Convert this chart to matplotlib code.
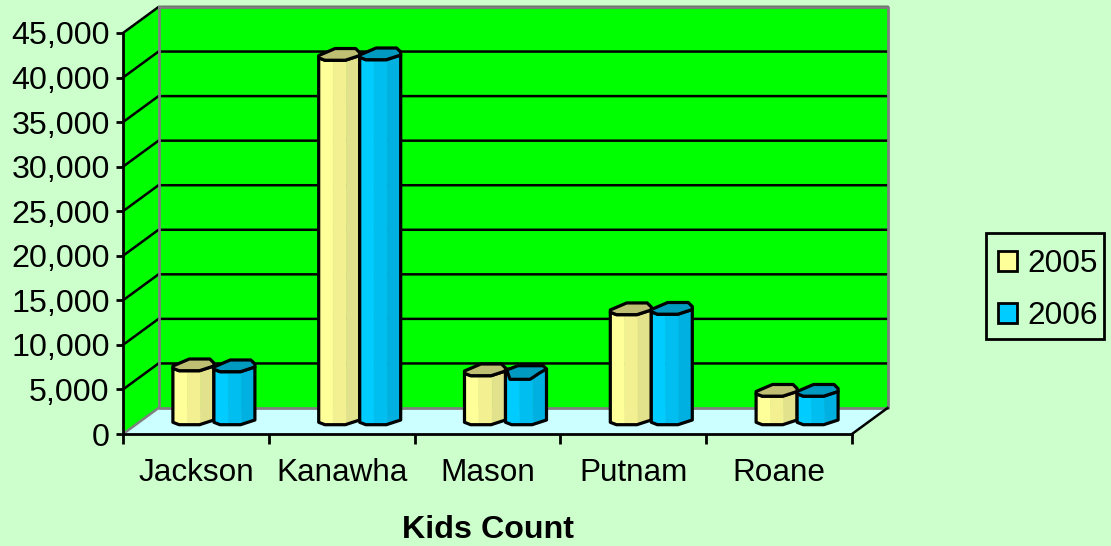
import numpy as np
import matplotlib
matplotlib.use("Agg")
import matplotlib.pyplot as plt
from matplotlib.patches import Polygon, Patch, Rectangle
from matplotlib.ticker import FuncFormatter

categories = ["Jackson", "Kanawha", "Mason", "Putnam", "Roane"]
kids_2005 = [6060, 40900, 5500, 12350, 3200]
kids_2006 = [5950, 40960, 5350, 12400, 3200]
series_labels = ["2005", "2006"]

W, H = 1111, 546
plt.rcParams["font.family"] = ["Liberation Sans", "DejaVu Sans"]
BG, WALL, FLOOR, GREY = "#CCFFCC", "#00FF00", "#CCFFFF", "#808080"
BANDS = [["#FFFF99", "#F3F092", "#E2E28C"], ["#00CCFF", "#00BEF0", "#00B0E0"]]
TOPS = ["#BFBF73", "#0099BF"]
FS = 22.7

fig = plt.figure(figsize=(W / 100, H / 100), dpi=100, facecolor=BG)
L, R, T, B = 123, 852, 33, 434
ax = fig.add_axes([L / W, 1 - B / H, (R - L) / W, (B - T) / H])
ax.set_xlim(0, len(categories))
ax.set_ylim(0, 45000)
ax.patch.set_visible(False)

sx = len(categories) / (R - L)      # data units per pixel
sy = 45000 / (B - T)
DX, DY = 35.5 * sx, 26 * sy         # depth of the box

ymax = 45000
def poly(pts, **kw):
    p = Polygon(pts, closed=True, clip_on=False, **kw)
    ax.add_patch(p)
    return p

# walls and floor
nc = len(categories)
poly([(DX, DY), (nc + DX, DY), (nc + DX, ymax + DY), (DX, ymax + DY)], fc=WALL, ec="none", zorder=1)
poly([(0, 0), (DX, DY), (DX, ymax + DY), (0, ymax)], fc=WALL, ec="none", zorder=1)
poly([(0, 0), (nc, 0), (nc + DX, DY), (DX, DY)], fc=FLOOR, ec="none", zorder=1)
for v in np.arange(5000, 45001, 5000):
    ax.plot([0, DX, nc + DX], [v, v + DY, v + DY], color="k", lw=1.8, clip_on=False, zorder=2,
            solid_joinstyle="miter")
ax.plot([DX, DX, nc + DX, nc + DX, DX], [ymax + DY, DY, DY, ymax + DY, ymax + DY], color=GREY, lw=2.0,
        clip_on=False, zorder=2.5)
ax.plot([0, DX], [0, DY], color=GREY, lw=1.8, clip_on=False, zorder=2.5)
ax.plot([nc, nc + DX], [0, DY], color="k", lw=1.8, clip_on=False, zorder=2.5)

# cylinders: low-resolution tilted-ellipse outline, in pixels around the bar centre
BW = 41.0
top_u = np.array([0, 16, 36, 40, 40, 26, 6, 0]) / 40
top_v = np.array([1, -6, -6, -2, 1, 5.7, 5.7, 3.3])
low_u = np.array([0, 6, 26, 40]) / 40
low_v = np.array([3.3, 5.7, 5.7, 1.0])
# the dented top of the Mason 2006 cylinder
dent_u = np.array([0.03, 0.11, 0.6, 0.84, 1, 0.92, 0.3])
dent_v = np.array([-1.3, 8, 8, 1.4, -2.3, -5.6, -5.6])
band_edges = [0, 14 / 40, 27 / 40, 1]
BASE_DX, BASE_DY = 18.0, 15.0

def cylinder(left_px, val, s, z, dented=False):
    y0 = BASE_DY * sy
    X = lambda u: left_px * sx + u * BW * sx
    upper_v = np.full_like(low_v, -2.3) if dented else low_v
    for k in range(3):
        us = np.unique(np.r_[band_edges[k], band_edges[k + 1],
                             low_u[(low_u > band_edges[k]) & (low_u < band_edges[k + 1])]])
        lv = np.interp(us, low_u, low_v)
        uv = np.interp(us, low_u, upper_v)
        pts = [(X(u), val + y0 - v * sy) for u, v in zip(us, uv)]
        pts += [(X(u), y0 - v * sy) for u, v in zip(us[::-1], lv[::-1])]
        poly(pts, fc=BANDS[s][k], ec=BANDS[s][k], lw=0.4, zorder=z)
    outline = [(X(u), val + y0 - v * sy) for u, v in zip(low_u, upper_v)]
    outline += [(X(u), y0 - v * sy) for u, v in zip(low_u[::-1], low_v[::-1])]
    poly(outline, fc="none", ec="k", lw=2.3, zorder=z + 0.1, joinstyle="round")
    tu, tv = (dent_u, dent_v) if dented else (top_u, top_v)
    poly([(X(u), val + y0 - v * sy) for u, v in zip(tu, tv)],
         fc=TOPS[s], ec="k", lw=2.3, zorder=z + 0.2, joinstyle="round")

for i in range(nc):
    boundary = (i + 0.5) / sx + BASE_DX     # px from the left of the front plane
    cylinder(boundary - BW, kids_2005[i], 0, 3 + i)
    cylinder(boundary, kids_2006[i], 1, 3.5 + i, dented=(categories[i] == "Mason"))

# axes
for s in ("top", "right"):
    ax.spines[s].set_visible(False)
for s in ("left", "bottom"):
    ax.spines[s].set_linewidth(2.0)
    ax.spines[s].set_zorder(10)
ax.set_yticks(np.arange(0, 45001, 5000))
ax.yaxis.set_major_formatter(FuncFormatter(lambda v, _: f"{int(v):,}"))
ax.tick_params(axis="y", length=5, width=2.0, labelsize=23.2, pad=4.6, colors="k")
ax.set_xticks(np.arange(nc + 1))
ax.set_xticklabels([])
ax.tick_params(axis="x", which="major", length=7, width=2.0)
ax.set_xticks(np.arange(nc) + 0.5, minor=True)
ax.set_xticklabels(categories, minor=True, fontsize=FS)
ax.tick_params(axis="x", which="minor", length=0, pad=17.5)
ax.set_xlabel("Kids Count", fontsize=23.2, fontweight="bold", labelpad=19)

# legend
fig.add_artist(Rectangle((985.7 / W, 1 - 338.7 / H), (1104 - 985.7) / W, 106 / H,
                         transform=fig.transFigure, fc="none", ec="k", lw=2.0))
handles = [Patch(fc=BANDS[k][0], ec="k", lw=2.0) for k in range(2)]
leg = fig.legend(handles, series_labels, loc="upper left",
                 bbox_to_anchor=(985.7 / W, 1 - 236.7 / H), bbox_transform=fig.transFigure,
                 fontsize=FS, frameon=False,
                 handlelength=0.6, handleheight=0.6, handletextpad=0.33,
                 labelspacing=0.68, borderpad=0.4, borderaxespad=0, labelcolor="k")

fig.savefig("out.png", dpi=100, facecolor=BG)
